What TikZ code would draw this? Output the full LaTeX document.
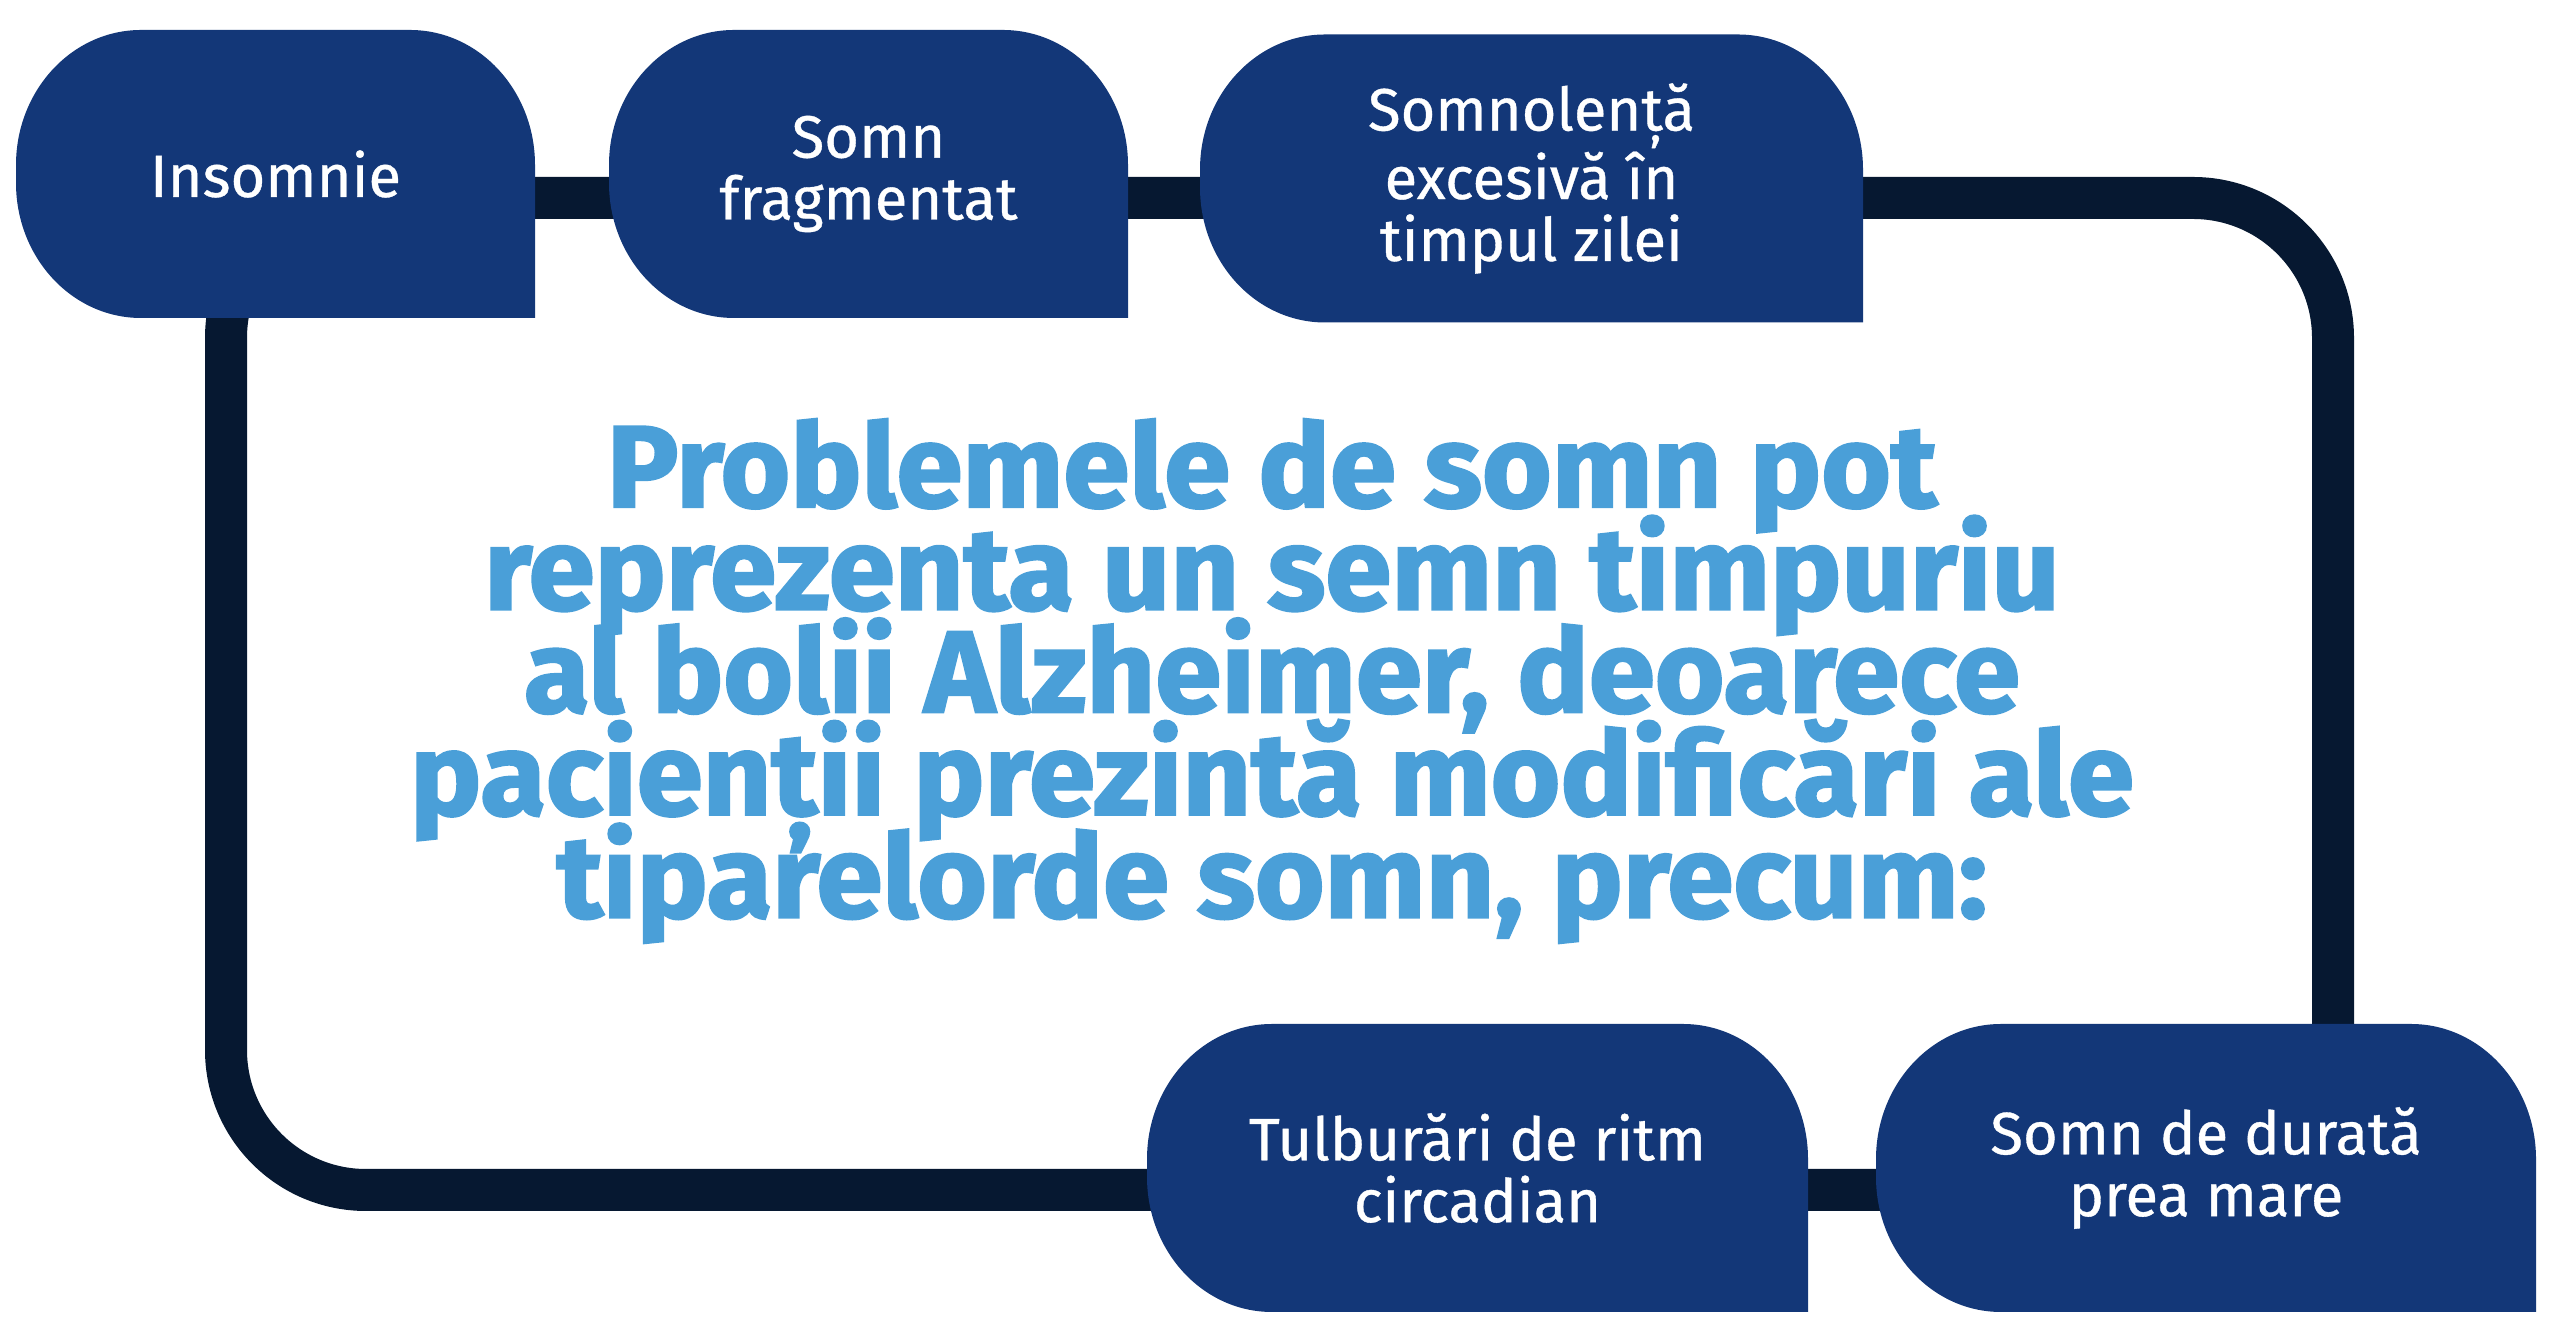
\documentclass[tikz,border=0pt]{standalone}
\usepackage{fontspec}
\setmainfont{Fira Sans}
\newfontfamily\headfont{Fira Sans}[BoldFeatures={FakeBold=2, FakeStretch=1.03}]
\newfontfamily\tagfont{Fira Sans}[FakeBold=0.6]
\usepackage{tikz}

\definecolor{boxblue}{HTML}{133778}
\definecolor{loopnavy}{HTML}{061831}
\definecolor{headblue}{HTML}{4A9FD8}

\tikzset{
    tagbox/.style={minimum width=#1, minimum height=2.88cm, inner sep=0pt, align=center,
        text=white, font=\tagfont\fontsize{17}{17.6}\selectfont,
        path picture={\fill[boxblue] (path picture bounding box.south east)
            -- ([yshift=-1.35cm]path picture bounding box.north east)
            arc[start angle=0, end angle=90, x radius=1.25cm, y radius=1.35cm]
            -- ([xshift=1.25cm]path picture bounding box.north west)
            arc[start angle=90, end angle=180, x radius=1.25cm, y radius=1.35cm]
            -- ([yshift=1.35cm]path picture bounding box.south west)
            arc[start angle=180, end angle=270, x radius=1.25cm, y radius=1.35cm]
            -- cycle;}},
    loopline/.style={draw=loopnavy, line width=0.42cm, rounded corners=1.4cm},
    headline/.style={align=center, text=headblue,
        font=\headfont\bfseries\fontsize{33}{29.2}\selectfont,
        execute at begin node={\lineskiplimit=-50pt\relax}}
}

\begin{document}
\begin{tikzpicture}
    \useasboundingbox (0,0) rectangle (25.6,13.31);
    % loop behind the boxes
    \coordinate (looptl) at (2.26,11.33);
    \coordinate (looptr) at (23.33,11.33);
    \coordinate (loopbr) at (23.33,1.41);
    \coordinate (loopbl) at (2.26,1.41);
    \draw[loopline] (looptl) -- (looptr) -- (loopbr) -- (loopbl) -- cycle;
    % top row
    \node[tagbox=5.19cm] (insomnie) at (2.755,11.57) {Insomnie};
    \node[tagbox=5.19cm] (fragment) at (8.685,11.57) {Somn\\fragmentat};
    \node[tagbox=6.63cm] (somnolenta) at (15.315,11.525) {Somnolență\\excesivă în\\timpul zilei};
    % bottom row
    \node[tagbox=6.61cm] (circadian) at (14.775,1.63) {Tulburări de ritm\\circadian};
    \node[tagbox=6.60cm] (durata) at (22.06,1.63) {Somn de durată\\prea mare};
    % centre text
    \node[headline] (claim) at (12.72,6.5) {Problemele de somn pot\\reprezenta un semn timpuriu\\al bolii Alzheimer, deoarece\\pacienții prezintă modificări ale\\tiparelorde somn, precum:};
\end{tikzpicture}
\end{document}
